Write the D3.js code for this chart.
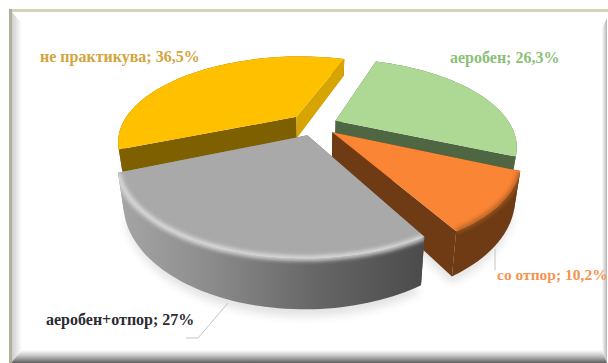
<!DOCTYPE html>
<html>
<head>
<meta charset="utf-8">
<script src="https://cdn.jsdelivr.net/npm/d3@7"></script>
<style>
html,body{margin:0;padding:0;background:#fff}
svg{display:block}
text{font-family:"Liberation Serif","DejaVu Serif",serif;font-weight:bold}
</style>
</head>
<body>
<svg id="chart" width="608" height="363"></svg>
<script>
// Survey shares of exercise type, drawn as an exploded 3D pie.
const categories = ["аеробен", "со отпор", "аеробен+отпор", "не практикува"];
const shares = [26.3, 10.2, 27, 36.5];
const shareLabels = ["26,3%", "10,2%", "27%", "36,5%"];
const topColors = ["#aed995", "#f98535", "#a9a9a9", "#ffc000"];
const wallColors = ["#4e6742", "#6e3b14", "url(#grayWall)", "#7f6000"];
const cutColors = ["#4e6742", "#6e3b14", "#777777", "#d6a503"];
const labelColors = ["#8cc076", "#f59450", "#2b2b33", "#d3a53c"];
const sliceDepths = [13, 33, 35, 22];
const sliceExplode = [0.13, 0.13, 0.13, 0.15];
const labelAnchors = [[450, 63], [497, 280], [46, 325], [40, 62]];
const labelSizes = [16, 15.5, 16, 16];

const svg = d3.select("#chart");
const defs = svg.append("defs");

// Projection constants for the tilted, perspective view of the pie plane.
const cx = 315, cy = 125, radius = 175, tilt = 0.465, persp = 0.28, shrink = 0.0009;

function project(x, z, h) {
  const s = 1 / (1 - persp * z);
  const k = 1 - h * shrink;
  return [cx + radius * x * s * k, cy + radius * tilt * z * s + h * s];
}

const pie = d3.pie().sort(null).value(d => d)
  .startAngle(19 * Math.PI / 180).endAngle(379 * Math.PI / 180);
const arcs = pie(shares);
const line = d3.line();

// Geometry of one slice: apex and rim sampled at a given height below the top.
function slice(a, e) {
  const mid = (a.startAngle + a.endAngle) / 2;
  const ox = e * Math.sin(mid), oz = -e * Math.cos(mid);
  const steps = d3.range(0, 61).map(i => a.startAngle + (a.endAngle - a.startAngle) * i / 60);
  return {
    apex: h => project(ox, oz, h),
    rim: h => steps.map(t => project(ox + Math.sin(t), oz - Math.cos(t), h)),
  };
}

// Filters and gradients
const soft = b => defs.append("filter").attr("id", "blur" + b)
  .attr("x", "-20%").attr("y", "-20%").attr("width", "140%").attr("height", "140%")
  .append("feGaussianBlur").attr("stdDeviation", b);
[1, 2, 4].forEach(soft);

const gradient = (id, x1, y1, x2, y2, stops) => {
  const g = defs.append("linearGradient").attr("id", id).attr("gradientUnits", "userSpaceOnUse")
    .attr("x1", x1).attr("y1", y1).attr("x2", x2).attr("y2", y2);
  stops.forEach(([o, c]) => g.append("stop").attr("offset", o).attr("stop-color", c));
};
gradient("grayWall", 116, 0, 425, 0, [[0, "#a6a6a6"], [0.3, "#8c8c8c"], [0.65, "#666666"], [1, "#4b4b4b"]]);
gradient("bevelL", 11, 0, 22, 0, [[0, "#c9c9c9"], [1, "#ffffff"]]);
gradient("bevelR", 602, 0, 607, 0, [[0, "#ffffff"], [1, "#b4b4b4"]]);
gradient("bevelB", 0, 350, 0, 363, [[0, "#ffffff"], [0.45, "#c4c4c4"], [1, "#5f5f5f"]]);

// Picture frame with bevelled inner edges
const frame = svg.append("g");
frame.append("path").attr("d", "M12,12 L22,24 L22,350 L12,363 Z").attr("fill", "url(#bevelL)");
frame.append("path").attr("d", "M607,18 L602,28 L602,350 L607,363 Z").attr("fill", "url(#bevelR)");
frame.append("path").attr("d", "M11,363 L22,350 L602,350 L607,363 Z").attr("fill", "url(#bevelB)");
frame.append("rect").attr("x", 10).attr("y", 9).attr("width", 598).attr("height", 3).attr("fill", "#d6d2b8");
frame.append("rect").attr("x", 9).attr("y", 9).attr("width", 3).attr("height", 354).attr("fill", "#b3b09a");

// Soft ground shadows under the deep slices
const shadows = svg.append("g").attr("filter", "url(#blur4)").attr("opacity", 0.16);
[1, 2].forEach(i => {
  const d = slice(arcs[i], sliceExplode[i]), h = sliceDepths[i];
  shadows.append("path").attr("fill", "#555")
    .attr("d", line([d.apex(h + 5), ...d.rim(h + 5)]) + "Z");
});

// Draw far slices first so the nearer ones overlap them.
const order = [3, 0, 1, 2];
const pieGroup = svg.append("g");
order.forEach(i => {
  const a = arcs[i], d = slice(a, sliceExplode[i]), h = sliceDepths[i];
  const g = pieGroup.append("g");
  const rimTop = d.rim(0), rimLow = d.rim(h);
  const apexTop = d.apex(0), apexLow = d.apex(h);

  // Curved outer wall
  const wallPath = line([...rimTop, ...rimLow.slice().reverse()]) + "Z";
  g.append("path").attr("fill", wallColors[i]).attr("d", wallPath);

  // Flat cut faces running from the apex to each end of the rim
  const faces = [[rimTop[0], rimLow[0]], [rimTop[60], rimLow[60]]];
  faces.forEach((f, j) => {
    // The yellow slice shows one lit cut face on its far side.
    const fill = (i === 3 && j === 1) ? cutColors[i] : wallColors[i];
    g.append("path").attr("fill", fill)
      .attr("d", line([apexTop, f[0], f[1], apexLow]) + "Z");
  });

  // Top surface
  const topPath = line([apexTop, ...rimTop]) + "Z";
  g.append("path").attr("fill", topColors[i]).attr("d", topPath);

  // Rim bevel on the gray and orange slices, blurred across the edge
  if (i === 1 || i === 2) {
    const clipId = "clip" + i;
    defs.append("clipPath").attr("id", clipId).append("path").attr("d", topPath + wallPath);
    g.append("g").attr("clip-path", `url(#${clipId})`)
      .append("path").attr("d", line(rimTop)).attr("fill", "none")
      .attr("stroke", i === 2 ? "#e2e2e2" : "#a85a22")
      .attr("stroke-width", i === 2 ? 5 : 4)
      .attr("filter", "url(#blur2)").attr("opacity", 0.95);
  }
});

// Leader lines
const leaders = [
  { data: [[228, 303], [198, 338], [186, 338]] },
  { data: [[495, 249], [495, 270]] },
];
svg.append("g").selectAll("path").data(leaders).join("path")
  .attr("d", d => line(d.data)).attr("fill", "none")
  .attr("stroke", "#c4c4c4").attr("stroke-width", 1);

// Data labels
svg.append("g").selectAll("text").data(categories).join("text")
  .attr("x", (d, i) => labelAnchors[i][0])
  .attr("y", (d, i) => labelAnchors[i][1])
  .attr("font-size", (d, i) => labelSizes[i])
  .attr("fill", (d, i) => labelColors[i])
  .text((d, i) => `${d}; ${shareLabels[i]}`);
</script>
</body>
</html>
